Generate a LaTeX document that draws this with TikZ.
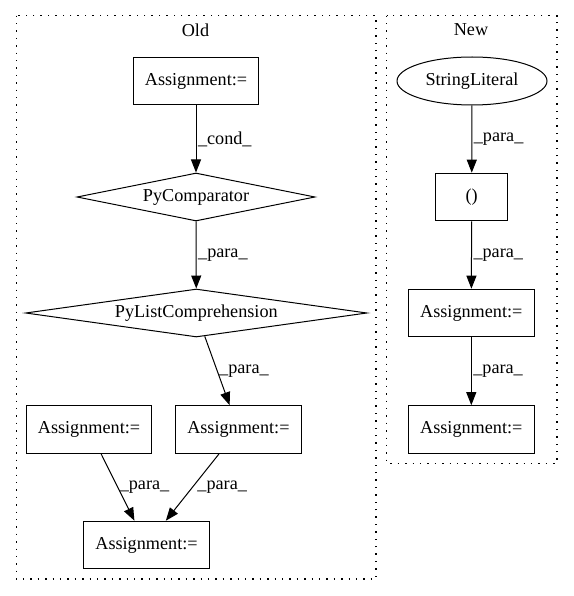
\documentclass[tikz,border=0pt]{standalone}
\usepackage{fontspec}
\setmainfont{Liberation Serif}
\usetikzlibrary{shapes.geometric,arrows.meta}

\begin{document}
\begin{tikzpicture}[x=1pt, y=-1pt, line width=1pt,
    font=\fontsize{18.2}{22}\selectfont,
    box/.style={draw, rectangle, inner sep=0pt, minimum width=125.7pt, minimum height=47.6pt},
    decision/.style={draw, diamond, inner sep=0pt, minimum height=48pt},
    lit/.style={draw, ellipse, inner sep=0pt, minimum width=150pt, minimum height=48pt},
    cluster/.style={draw, dash pattern=on 1.4pt off 6pt, line width=1.2pt},
    flow/.style={-{Triangle[length=13pt,width=10pt]}},
    lbl/.style={anchor=west, inner sep=1.5pt}]
  \useasboundingbox (0,0) rectangle (573,596);
  % clusters
  \draw[cluster] (16.4,15.7) rectangle (376,579);
  \draw[cluster] (386.5,15.7) rectangle (557,463.3);
  \node (oldlbl) at (195.5,30) {Old};
  \node (newlbl) at (471,30) {New};
  % old
  \node[box] (oldasg) at (196,81) {Assignment:=};
  \node[decision, shape aspect=5, minimum width=238pt] (pycmp) at (196,197) {PyComparator};
  \node[decision, shape aspect=7, minimum width=341.4pt] (plc) at (196.3,313) {PyListComprehension};
  \node[box] (leftasg) at (89,429.5) {Assignment:=};
  \node[box] (midasg) at (238.4,429.5) {Assignment:=};
  \node[box] (botasg) at (146.5,545) {Assignment:=};
  \draw[flow] (oldasg) -- node[lbl] {\_cond\_} (pycmp);
  \draw[flow] (pycmp) -- node[lbl] {\_para\_} (plc);
  \draw[flow] (plc) -- node[lbl] {\_para\_} (midasg);
  \draw[flow] (leftasg) -- node[lbl] {\_para\_} (botasg);
  \draw[flow] (midasg) -- node[lbl, xshift=3pt] {\_para\_} (botasg);
  % new
  \node[lit] (strlit) at (472,81) {StringLiteral};
  \node[box, minimum width=72.5pt] (paren) at (471.7,197) {()};
  \node[box] (newasg) at (471.3,313) {Assignment:=};
  \node[box] (newasgb) at (471.3,429.5) {Assignment:=};
  \draw[flow] (strlit) -- node[lbl] {\_para\_} (paren);
  \draw[flow] (paren) -- node[lbl] {\_para\_} (newasg);
  \draw[flow] (newasg) -- node[lbl] {\_para\_} (newasgb);
\end{tikzpicture}
\end{document}
